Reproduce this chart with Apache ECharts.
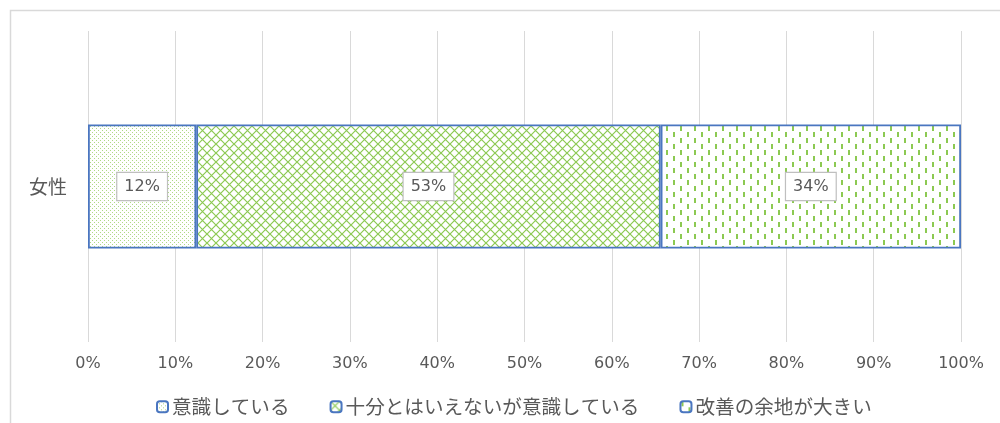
<!DOCTYPE html>
<html>
<head>
<meta charset="utf-8">
<script src="https://cdn.jsdelivr.net/npm/echarts@6/dist/echarts.min.js"></script>
<style>
  html, body { margin: 0; padding: 0; background: #fff; }
  #chart { width: 1000px; height: 423px; }
</style>
</head>
<body>
<div id="chart"></div>
<script>
// Survey categories and answer shares (percent)
const categories = ['女性'];
const seriesNames = ['意識している', '十分とはいえないが意識している', '改善の余地が大きい'];
const awareValues = [12.4];
const partlyValues = [53.2];
const roomValues = [34.4];
const tickLabels = ['0%', '10%', '20%', '30%', '40%', '50%', '60%', '70%', '80%', '90%', '100%'];

const GREEN = '#8cc952';
const BLUE = '#4a76c0';
const TEXT = '#595959';
const FONT = '"DejaVu Sans", "Noto Sans CJK JP", sans-serif';
const JP_FONT = '"Noto Sans CJK JP", "Noto Sans", sans-serif';

function tile(w, h, draw) {
  const c = document.createElement('canvas');
  c.width = w; c.height = h;
  const ctx = c.getContext('2d');
  ctx.fillStyle = '#ffffff';
  ctx.fillRect(0, 0, w, h);
  draw(ctx);
  return { image: c, repeat: 'repeat' };
}

// fine dot grid
const dotFill = tile(4, 4, ctx => {
  ctx.fillStyle = GREEN;
  ctx.globalAlpha = 0.7;
  ctx.fillRect(0, 0, 1, 1);
  ctx.fillRect(2, 2, 1, 1);
});

// diagonal lattice
const latticeFill = tile(9, 9, ctx => {
  ctx.strokeStyle = GREEN;
  ctx.lineWidth = 1.2;
  ctx.beginPath();
  ctx.moveTo(-1, -1); ctx.lineTo(10, 10);
  ctx.moveTo(-1, 10); ctx.lineTo(10, -1);
  ctx.stroke();
});

// staggered vertical dashes
const dashFill = tile(14, 12, ctx => {
  ctx.fillStyle = GREEN;
  ctx.fillRect(1, 0, 2, 5);
  ctx.fillRect(8, 6, 2, 5);
});

const fills = [dotFill, latticeFill, dashFill];
const valueLists = [awareValues, partlyValues, roomValues];

const chart = echarts.init(document.getElementById('chart'), null, { renderer: 'canvas' });

chart.setOption({
  animation: false,
  textStyle: { fontFamily: FONT },
  graphic: [{
    type: 'rect',
    shape: { x: 10.5, y: 10.5, width: 1100, height: 500 },
    style: { fill: 'none', stroke: '#d9d9d9', lineWidth: 1.5 },
    silent: true,
    z: -10
  }],
  grid: { left: 88, right: 39, top: 31, bottom: 81 },
  legend: {
    data: seriesNames,
    left: 151,
    top: 392,
    itemWidth: 11,
    itemHeight: 11,
    itemGap: 40,
    textStyle: { color: TEXT, fontSize: 19.6, fontFamily: JP_FONT, padding: [0, 0, 0, -1] }
  },
  xAxis: {
    type: 'value',
    min: 0,
    max: 100,
    interval: 10,
    axisLine: { show: false },
    axisTick: { show: false },
    splitLine: { show: true, lineStyle: { color: '#d9d9d9', width: 1 } },
    axisLabel: {
      color: TEXT,
      fontSize: 16,
      margin: 14,
      fontFamily: FONT,
      formatter: v => tickLabels[Math.round(v / 10)]
    }
  },
  yAxis: {
    type: 'category',
    data: categories,
    axisLine: { show: false },
    axisTick: { show: false },
    axisLabel: { color: TEXT, fontSize: 19, margin: 21, fontFamily: JP_FONT }
  },
  series: seriesNames.map((name, i) => ({
    name: name,
    type: 'bar',
    stack: 'total',
    barWidth: 124,
    data: valueLists[i],
    itemStyle: { color: fills[i], borderColor: BLUE, borderWidth: 1.8 },
    label: {
      show: true,
      position: 'inside',
      formatter: p => Math.round(p.value) + '%',
      color: TEXT,
      fontSize: 16,
      fontFamily: FONT,
      backgroundColor: '#ffffff',
      borderColor: '#bfbfbf',
      borderWidth: 1.2,
      padding: [6, 7, 5, 7]
    },
    emphasis: { disabled: true }
  }))
});
</script>
</body>
</html>
